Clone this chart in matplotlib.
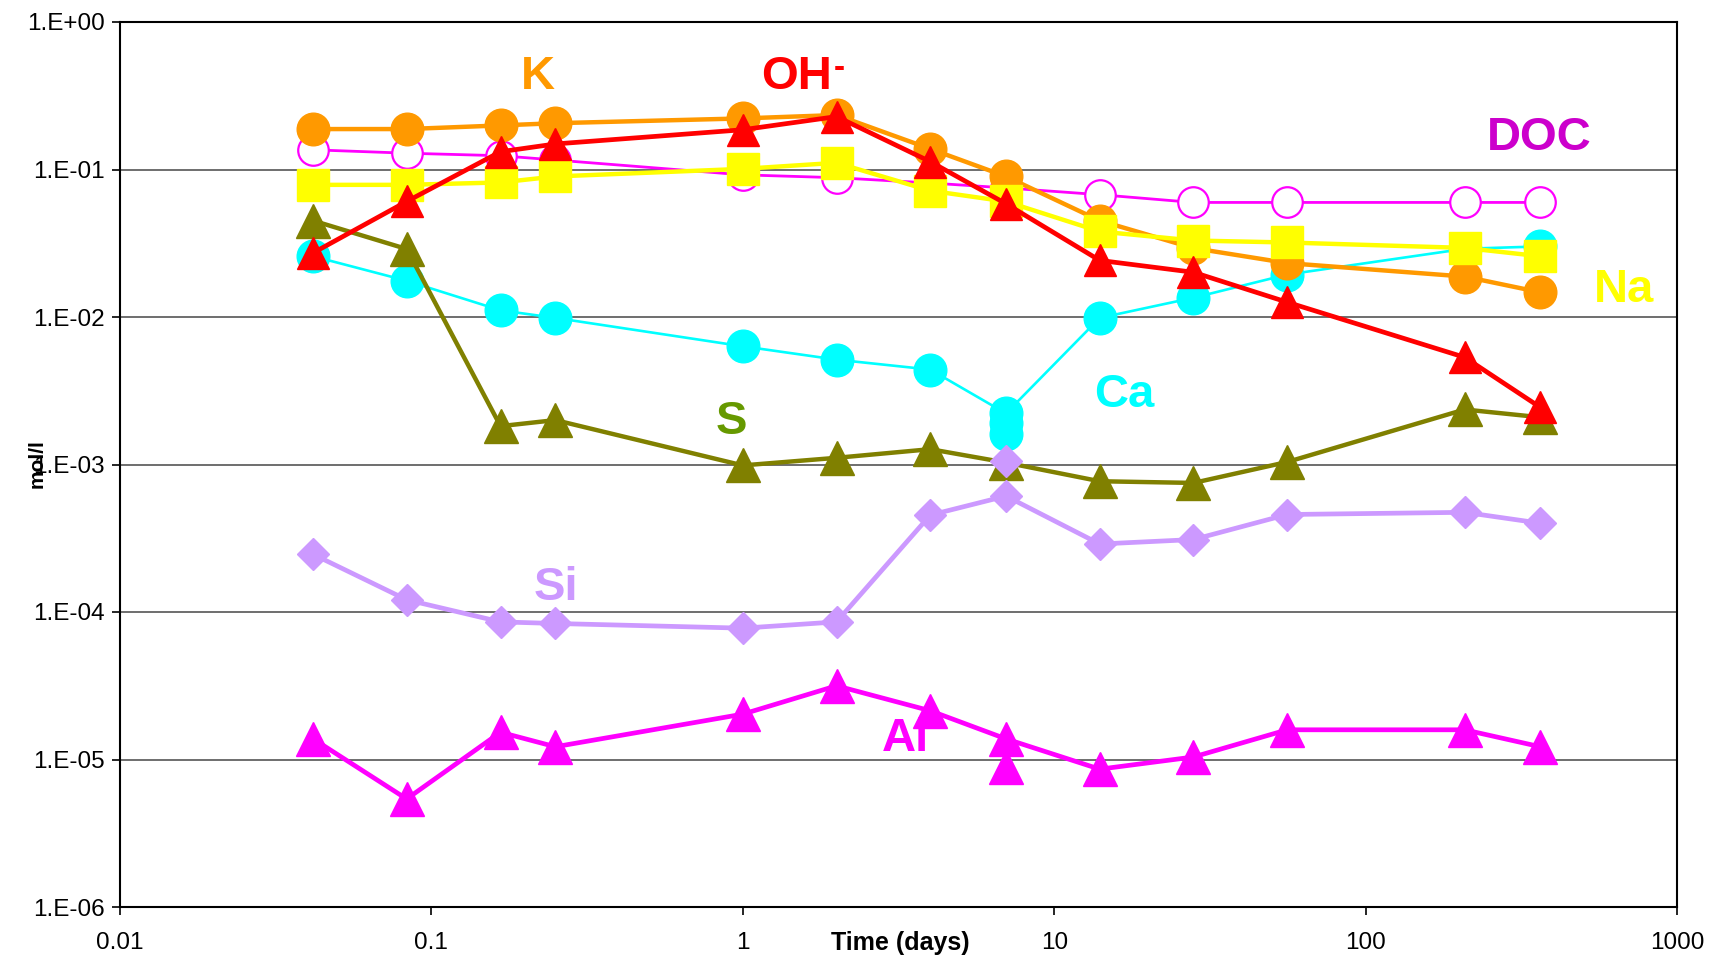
import matplotlib
matplotlib.use("Agg")
import matplotlib.pyplot as plt
from matplotlib.ticker import FixedLocator, FixedFormatter, NullLocator

plt.rcParams['font.family'] = ['Liberation Sans', 'DejaVu Sans']

# sampling times (days)
days = [0.0417, 0.0833, 0.1667, 0.25, 1, 2, 4, 7, 14, 28, 56, 208, 364]

# concentrations, mol/l
k_conc = [0.188, 0.188, 0.199, 0.206, 0.222, 0.234, 0.138, 0.0897, 0.045, 0.0293, 0.0232, 0.0188, 0.0147]
oh_conc = [0.0272, 0.0607, 0.132, 0.149, 0.186, 0.2285, 0.113, 0.0586, 0.0242, 0.0201, 0.0126, 0.00533, 0.00244]
doc_conc = [0.136, 0.129, 0.124, 0.116, 0.092, 0.088, 0.081, 0.075, 0.0675, 0.0598, 0.0598, 0.0598, 0.0598]
na_conc = [0.0787, 0.0787, 0.0817, 0.0897, 0.101, 0.111, 0.0718, 0.0607, 0.038, 0.033, 0.032, 0.0294, 0.0258]
ca_conc = [0.0258, 0.0176, 0.0111, 0.00986, 0.00633, 0.00514, 0.0044, 0.00222, 0.00986, 0.0135, 0.0194, 0.029, 0.0301]
s_conc = [0.045, 0.0289, 0.00182, 0.002, 0.000986, 0.00111, 0.00127, 0.00103, 0.00077, 0.00075, 0.00104, 0.00236, 0.00209]
si_conc = [0.000246, 0.000121, 0.0000857, 0.0000836, 0.0000777, 0.0000857, 0.000454, 0.000611, 0.000289, 0.00031, 0.000458, 0.000474, 0.0004]
al_conc = [0.0000138, 0.0000054, 0.0000153, 0.0000122, 0.0000203, 0.0000316, 0.0000214, 0.0000138, 0.0000086, 0.0000104, 0.0000159, 0.0000159, 0.0000122]

# repeat samples at 7 days
ca_rep_days = [7, 7]
ca_rep = [0.0019, 0.0016]
si_rep_days = [7]
si_rep = [0.00106]
al_rep_days = [7]
al_rep = [0.0000089]

xticks = [0.01, 0.1, 1, 10, 100, 1000]
xlabels = ['0.01', '0.1', '1', '10', '100', '1000']
yticks = [1e-6, 1e-5, 1e-4, 1e-3, 1e-2, 1e-1, 1]
ylabels = ['1.E-06', '1.E-05', '1.E-04', '1.E-03', '1.E-02', '1.E-01', '1.E+00']

W, H = 1715, 959
fig = plt.figure(figsize=(W / 100, H / 100), dpi=100)
ax = fig.add_axes([120 / W, 1 - 907 / H, 1557 / W, 885 / H])


def fpos(x, y):
    return x / W, 1 - y / H


ax.plot(days, ca_conc, color='#00FFFF', lw=1.9, marker='o', ms=23.5, mec='#00FFFF', zorder=2)
ax.plot(ca_rep_days, ca_rep, ls='none', marker='o', ms=23.5, color='#00FFFF', zorder=2)
ax.plot(days, s_conc, color='#808000', lw=3.2, marker='^', ms=24, mec='#808000', zorder=3)
ax.plot(days, si_conc, color='#CC99FF', lw=3.4, marker='D', ms=16, mec='#CC99FF', zorder=4)
ax.plot(si_rep_days, si_rep, ls='none', marker='D', ms=16, color='#CC99FF', zorder=4)
ax.plot(days, doc_conc, color='#FF00FF', lw=2.0, marker='o', ms=22, mfc='white', mec='#FF00FF', mew=1.6, zorder=5)
ax.plot(days, k_conc, color='#FF9900', lw=3.2, marker='o', ms=23.5, mec='#FF9900', zorder=6)
ax.plot(days, na_conc, color='#FFFF00', lw=3.2, marker='s', ms=23, mec='#FFFF00', zorder=7)
ax.plot(days, oh_conc, color='#FF0000', lw=3.4, marker='^', ms=23, mec='#FF0000', zorder=8)
ax.plot(days, al_conc, color='#FF00FF', lw=3.4, marker='^', ms=24, mec='#FF00FF', zorder=9)
ax.plot(al_rep_days, al_rep, ls='none', marker='^', ms=24, color='#FF00FF', zorder=9)

ax.set_xscale('log')
ax.set_yscale('log')
ax.set_xlim(0.01, 1000)
ax.set_ylim(1e-6, 1)
ax.xaxis.set_major_locator(FixedLocator(xticks))
ax.xaxis.set_major_formatter(FixedFormatter(xlabels))
ax.xaxis.set_minor_locator(NullLocator())
ax.yaxis.set_major_locator(FixedLocator(yticks))
ax.yaxis.set_major_formatter(FixedFormatter(ylabels))
ax.yaxis.set_minor_locator(NullLocator())
ax.tick_params(axis='both', direction='out', length=6, width=1.2, labelsize=17.5, color='black')
ax.tick_params(axis='x', pad=12)
ax.tick_params(axis='y', pad=5)
ax.yaxis.grid(True, color='#555555', lw=1.2)
ax.set_axisbelow(True)
for sp in ax.spines.values():
    sp.set_color('black')
    sp.set_linewidth(1.5)

# axis titles
fig.text(*fpos(900, 943), 'Time (days)', ha='center', va='center', fontsize=18, fontweight='bold')
fig.text(*fpos(37, 464), 'mol/l', ha='center', va='center', rotation=90, fontsize=15, fontweight='bold', zorder=5)

# series names
names = [
    ('K', 538, 89, '#FF9900'),
    ('OH', 797, 89, '#FF0000'),
    ('DOC', 1539, 150, '#CC00CC'),
    ('Na', 1624, 302, '#FFFF00'),
    ('Ca', 1124, 407, '#00FFFF'),
    ('S', 731, 434, '#669900'),
    ('Si', 556, 600, '#CC99FF'),
    ('Al', 905, 751, '#FF00FF'),
]
for txt, x, y, c in names:
    ax.text(*fpos(x, y), txt, transform=fig.transFigure, ha='center', va='baseline',
            fontsize=34, fontweight='bold', color=c, zorder=1, clip_on=False)
ax.text(*fpos(834, 77), '-', transform=fig.transFigure, ha='left', va='baseline',
        fontsize=24, fontweight='bold', color='#FF0000', zorder=1, clip_on=False)

fig.savefig('out.png', dpi=100)
